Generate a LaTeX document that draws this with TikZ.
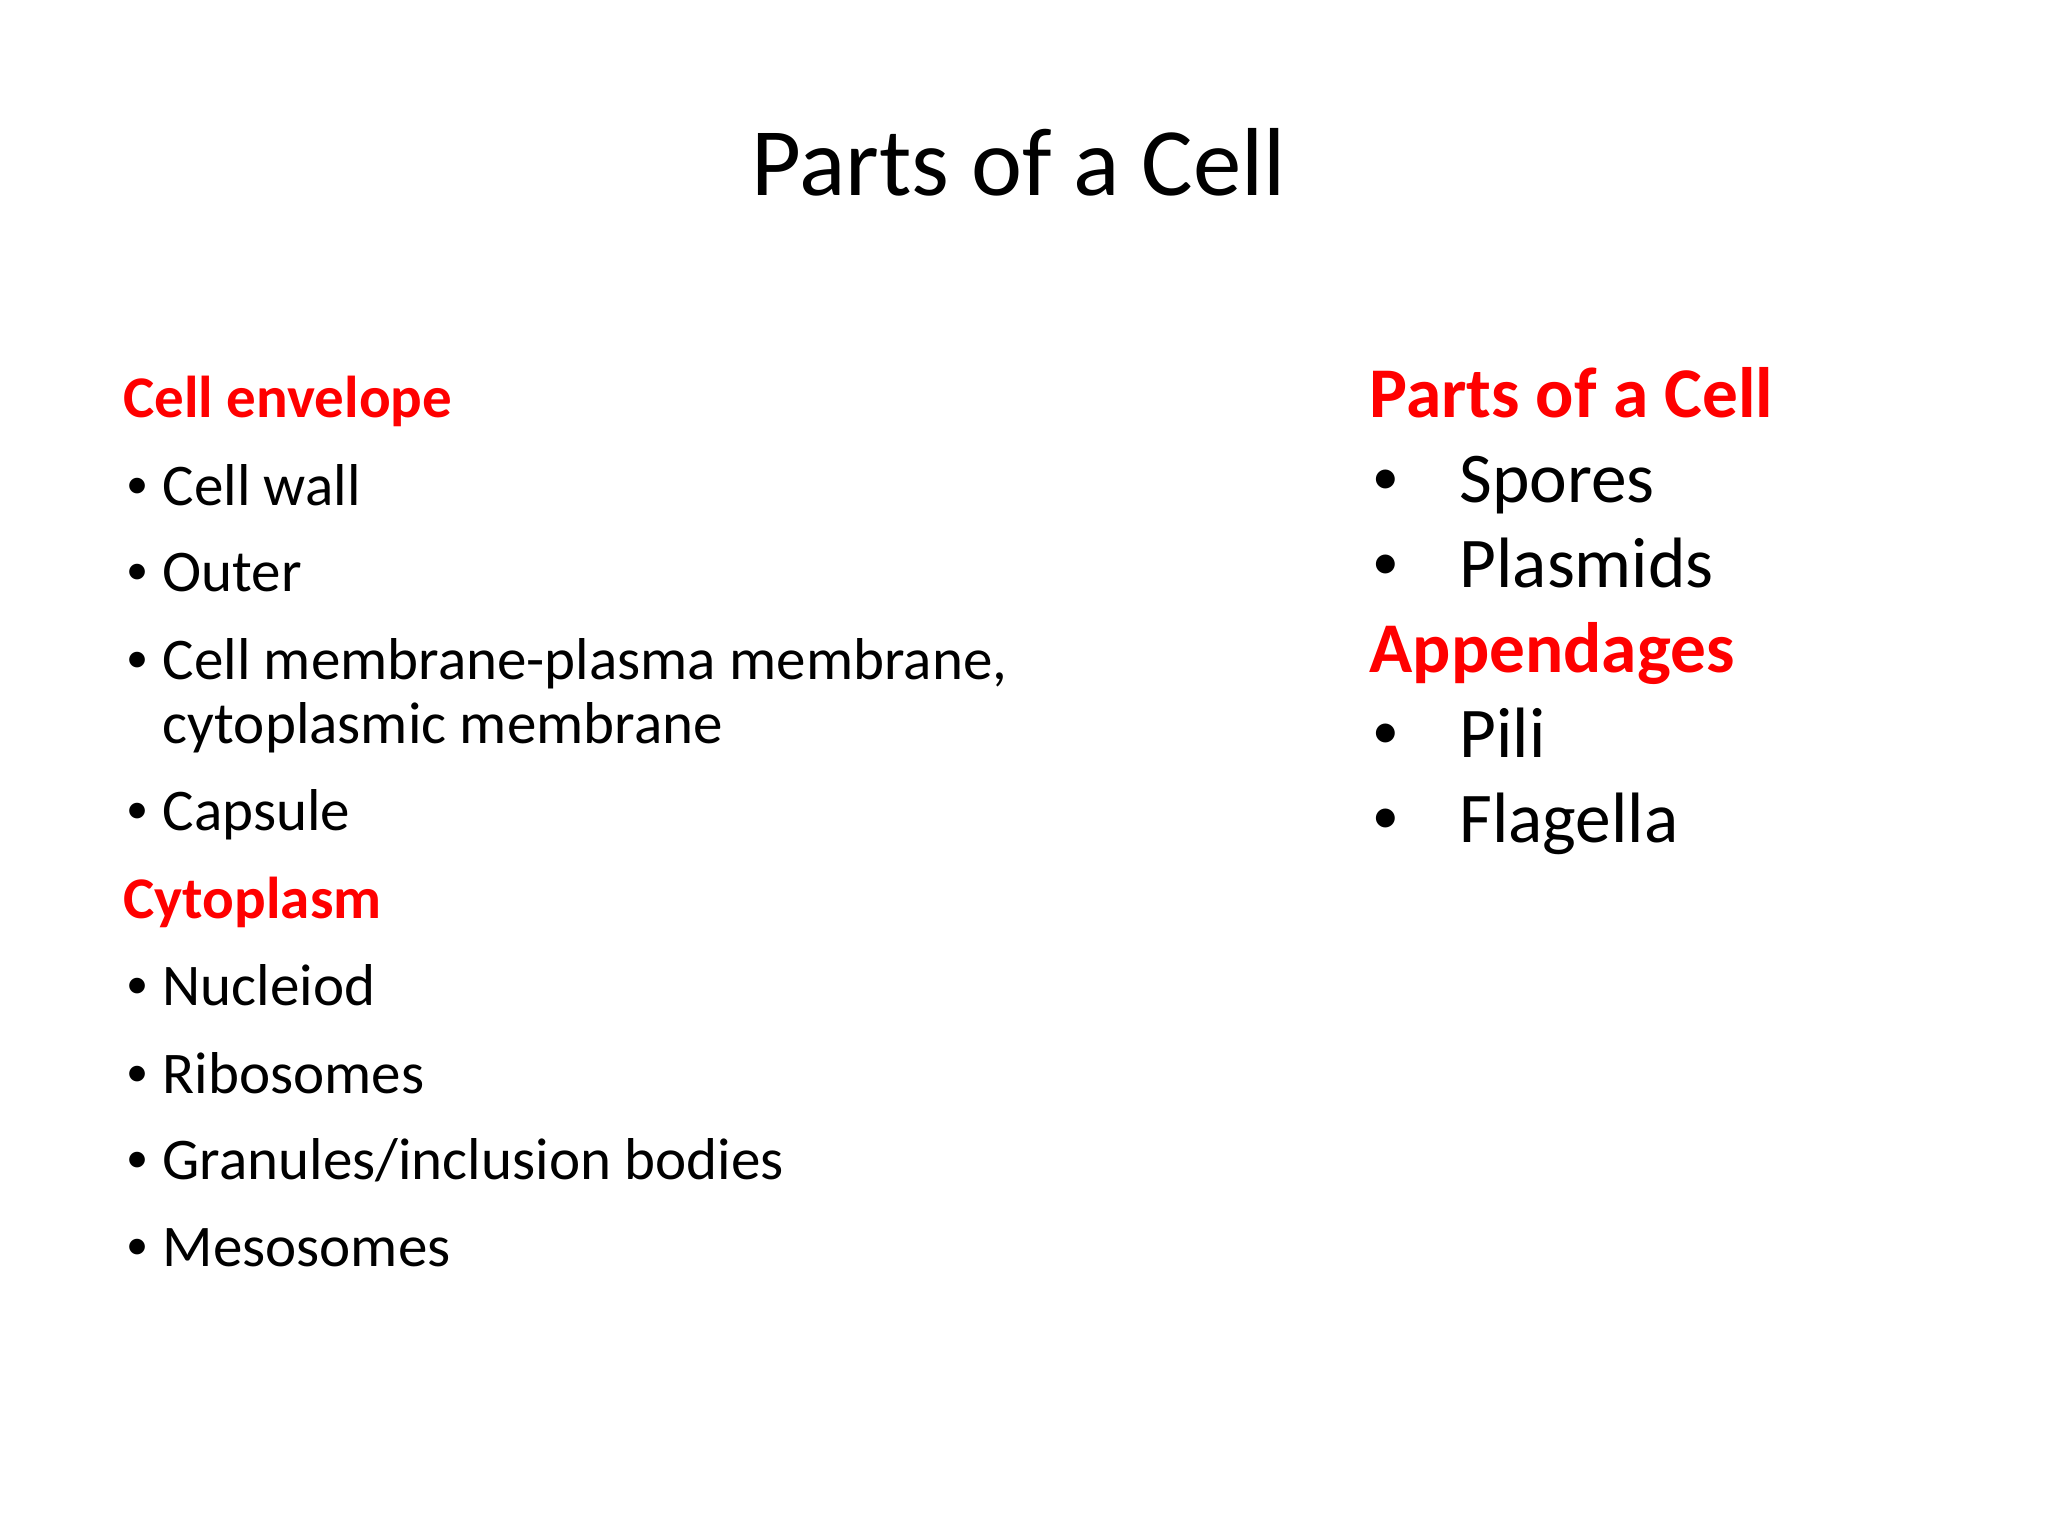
\documentclass[tikz,border=0pt]{standalone}
\usepackage{fontspec}
\setmainfont{Carlito}
\definecolor{hred}{RGB}{255,0,0}
\newcommand{\smbul}{\raisebox{0.12em}{\scalebox{0.75}{•}}}
\begin{document}
\begin{tikzpicture}[x=0.01306cm,y=-0.01306cm,
  lt/.style={anchor=base west,inner sep=0pt,font=\fontsize{16.8}{20}\selectfont},
  lh/.style={lt,text=hred,font=\fontsize{16.8}{20}\selectfont\bfseries},
  rt/.style={anchor=base west,inner sep=0pt,font=\fontsize{20.3}{24}\selectfont},
  rh/.style={rt,text=hred,font=\fontsize{20.3}{24}\selectfont\bfseries}]
\useasboundingbox (0,0) rectangle (1568,1176);
\node[anchor=base,inner sep=0pt,font=\fontsize{27.5}{32}\selectfont] (title) at (780,150) {Parts of a Cell};
\node[lh] (h1) at (94,320) {Cell envelope};
\foreach \n/\y/\t in {a/387/Cell wall,b/453/Outer,c/520/{Cell membrane-plasma membrane,},d/636/Capsule,f/770/Nucleiod,g/837/Ribosomes,h/903/{Granules/inclusion bodies},i/970/Mesosomes}{
  \node[lt] (b\n) at (96,\y) {\smbul};
  \node[lt] (t\n) at (124,\y) {\t};
}
\node[lt] (tc2) at (124,569) {cytoplasmic membrane};
\node[lh] (h2) at (94,703) {Cytoplasm};
\node[rh] (h3) at (1048,320) {Parts of a Cell};
\node[rh] (h4) at (1048,515) {Appendages};
\foreach \n/\y/\t in {a/385/Spores,b/450/Plasmids,c/580/Pili,d/645/Flagella}{
  \node[rt] (rb\n) at (1050,\y) {\smbul};
  \node[rt] (rt\n) at (1117,\y) {\t};
}
\end{tikzpicture}
\end{document}
